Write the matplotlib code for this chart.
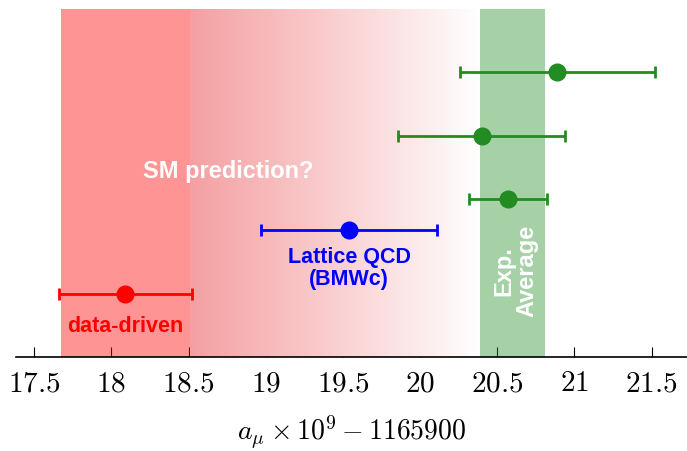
import numpy as np
import matplotlib
matplotlib.use('Agg')
import matplotlib.pyplot as plt
from matplotlib.colors import LinearSegmentedColormap
from matplotlib.ticker import FuncFormatter

plt.rcParams['mathtext.fontset'] = 'cm'

# 测量值 (a_mu x 10^9 - 1165900)
exp_vals = [20.89, 20.40, 20.57]
exp_errs = [0.63, 0.54, 0.25]
exp_y = [4.5, 3.5, 2.5]

lattice_val, lattice_err, lattice_y = 19.54, 0.57, 2.0
dd_val, dd_err, dd_y = 18.09, 0.43, 1.0

# 色带范围
dd_band = (17.67, 18.51)
sm_gradient = (18.51, 20.39)
exp_band = (20.39, 20.81)

xticks = [17.5, 18, 18.5, 19, 19.5, 20, 20.5, 21, 21.5]

fig = plt.figure(figsize=(6.87, 4.52), dpi=100)
ax = fig.add_axes([0.023, 0.208, 0.977, 0.77])
ax.set_xlim(17.38, 21.73)
ax.set_ylim(0, 5.5)

# 色带
ax.axvspan(*dd_band, color='red', alpha=0.42, lw=0, zorder=2.6)
cmap = LinearSegmentedColormap.from_list('sm', ['#f4a0a2', '#ffffff'])
grad = np.linspace(0, 1, 256).reshape(1, -1)
ax.imshow(grad, cmap=cmap, aspect='auto', extent=[sm_gradient[0], sm_gradient[1], 0, 5.5],
          zorder=2.6, interpolation='bilinear')
ax.axvspan(*exp_band, color='forestgreen', alpha=0.4, lw=0, zorder=2.6)

# 数据点
style = dict(fmt='o', markersize=12, elinewidth=2, capsize=4.5, capthick=2, zorder=4)
ax.errorbar(exp_vals, exp_y, xerr=exp_errs, color='forestgreen', **style)
ax.errorbar([lattice_val], [lattice_y], xerr=[lattice_err], color='blue', **style)
ax.errorbar([dd_val], [dd_y], xerr=[dd_err], color='red', **style)

# 文字
txt = dict(family=['Liberation Sans', 'DejaVu Sans'], weight='bold', ha='center', va='center', zorder=5)
ax.text(18.76, 2.95, 'SM prediction?', color='white', fontsize=17, **txt)
ax.text(19.54, 1.41, 'Lattice QCD\n(BMWc)', color='blue', fontsize=15.5, linespacing=1.05, **txt)
ax.text(18.09, 0.49, 'data-driven', color='red', fontsize=15.5, **txt)
ax.text(20.615, 1.37, 'Exp.\nAverage', color='white', fontsize=17, rotation=90,
        linespacing=1.0, **txt)

# 坐标轴
for s in ['left', 'right', 'top']:
    ax.spines[s].set_visible(False)
ax.spines['bottom'].set_zorder(5)
ax.spines['bottom'].set_linewidth(1.2)
ax.set_yticks([])
ax.set_xticks(xticks)
ax.xaxis.set_major_formatter(FuncFormatter(lambda v, p: r'$%g$' % v))
ax.tick_params(axis='x', direction='in', length=7, labelsize=21, pad=8)
ax.set_xlabel(r'$a_\mu \times 10^9 - 1165900$', fontsize=20, labelpad=12)

fig.savefig('out.png', dpi=100)
